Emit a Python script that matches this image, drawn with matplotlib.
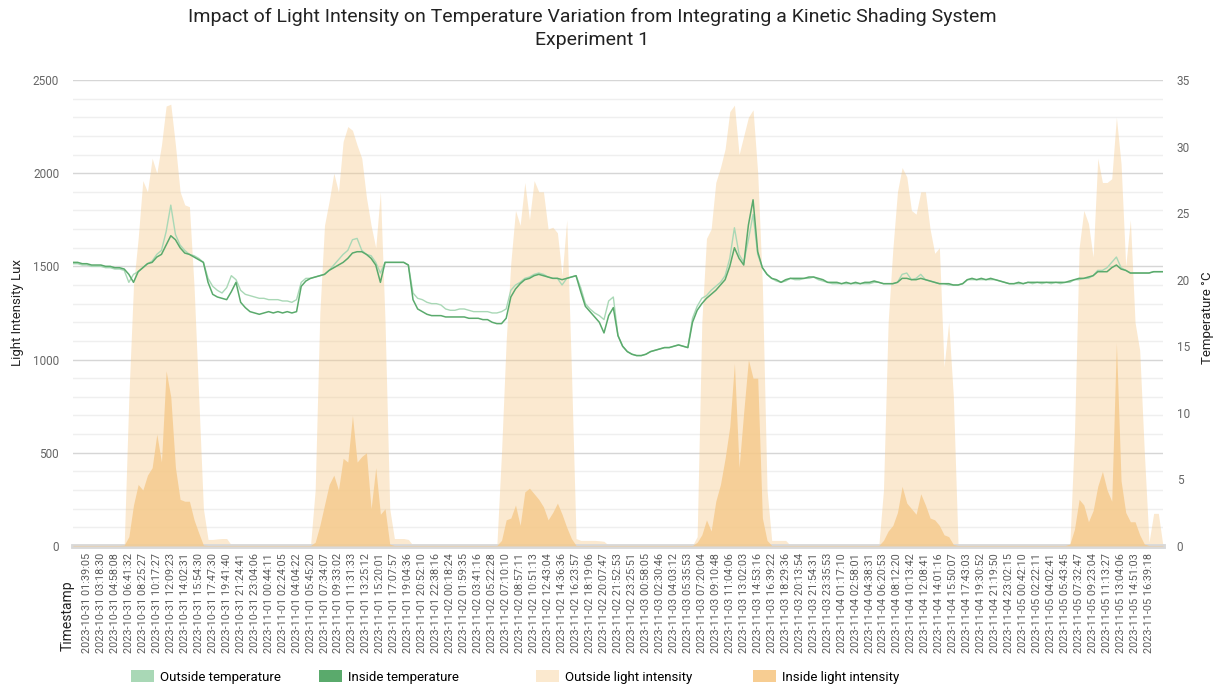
import numpy as np
import matplotlib.pyplot as plt
from matplotlib.patches import Patch
from matplotlib.ticker import MultipleLocator

plt.rcParams['font.family'] = ['Roboto', 'DejaVu Sans']

timestamps = [
    "2023-10-31 01:39:05", "2023-10-31 03:18:30", "2023-10-31 04:58:08", "2023-10-31 06:41:32",
    "2023-10-31 08:25:27", "2023-10-31 10:17:27", "2023-10-31 12:09:23", "2023-10-31 14:02:31",
    "2023-10-31 15:54:30", "2023-10-31 17:47:30", "2023-10-31 19:41:40", "2023-10-31 21:24:41",
    "2023-10-31 23:04:06", "2023-11-01 00:44:11", "2023-11-01 02:24:05", "2023-11-01 04:04:22",
    "2023-11-01 05:45:20", "2023-11-01 07:34:07", "2023-11-01 09:33:02", "2023-11-01 11:31:33",
    "2023-11-01 13:25:12", "2023-11-01 15:20:01", "2023-11-01 17:07:57", "2023-11-01 19:04:36",
    "2023-11-01 20:52:10", "2023-11-01 22:38:16", "2023-11-02 00:18:24", "2023-11-02 01:59:35",
    "2023-11-02 03:41:16", "2023-11-02 05:22:28", "2023-11-02 07:10:10", "2023-11-02 08:57:11",
    "2023-11-02 10:51:13", "2023-11-02 12:43:04", "2023-11-02 14:36:36", "2023-11-02 16:23:57",
    "2023-11-02 18:19:06", "2023-11-02 20:07:47", "2023-11-02 21:52:53", "2023-11-02 23:25:51",
    "2023-11-03 00:58:05", "2023-11-03 02:30:46", "2023-11-03 04:03:12", "2023-11-03 05:35:53",
    "2023-11-03 07:20:04", "2023-11-03 09:10:48", "2023-11-03 11:04:06", "2023-11-03 13:02:03",
    "2023-11-03 14:53:16", "2023-11-03 16:39:22", "2023-11-03 18:29:36", "2023-11-03 20:13:54",
    "2023-11-03 21:54:31", "2023-11-03 23:35:53", "2023-11-04 01:17:10", "2023-11-04 02:58:01",
    "2023-11-04 04:38:31", "2023-11-04 06:20:53", "2023-11-04 08:12:20", "2023-11-04 10:13:42",
    "2023-11-04 12:08:41", "2023-11-04 14:01:16", "2023-11-04 15:50:07", "2023-11-04 17:43:03",
    "2023-11-04 19:30:52", "2023-11-04 21:19:50", "2023-11-04 23:02:15", "2023-11-05 00:42:10",
    "2023-11-05 02:22:11", "2023-11-05 04:02:41", "2023-11-05 05:43:45", "2023-11-05 07:32:47",
    "2023-11-05 09:23:04", "2023-11-05 11:13:27", "2023-11-05 13:04:06", "2023-11-05 14:51:03",
    "2023-11-05 16:39:18",
]

# readings, three per timestamp interval
outside_temp = [
    21.2, 21.2, 21.1, 21.1, 21.0, 21.0, 21.0, 20.9, 20.9, 20.8,
    20.8, 20.7, 19.8, 20.4, 20.6, 20.9, 21.2, 21.4, 21.9, 22.2,
    23.6, 25.6, 23.4, 22.6, 22.2, 21.9, 21.8, 21.6, 21.3, 20.1,
    19.5, 19.2, 19.0, 19.4, 20.3, 20.0, 19.2, 18.9, 18.8, 18.7,
    18.6, 18.6, 18.5, 18.5, 18.5, 18.4, 18.4, 18.3, 18.5, 19.8,
    20.1, 20.1, 20.2, 20.3, 20.4, 20.7, 21.1, 21.5, 21.9, 22.2,
    23.0, 23.1, 22.2, 21.9, 21.8, 21.3, 20.5, 21.3, 21.3, 21.3,
    21.3, 21.3, 21.1, 19.0, 18.6, 18.5, 18.3, 18.2, 18.2, 18.1,
    17.8, 17.7, 17.7, 17.8, 17.8, 17.7, 17.6, 17.6, 17.6, 17.6,
    17.5, 17.5, 17.6, 17.8, 19.2, 19.6, 19.8, 20.1, 20.2, 20.4,
    20.5, 20.4, 20.2, 20.1, 20.1, 19.6, 20.1, 20.2, 20.3, 19.4,
    18.2, 17.8, 17.5, 17.3, 17.0, 18.4, 18.7, 15.8, 15.0, 14.6,
    14.4, 14.3, 14.3, 14.4, 14.6, 14.7, 14.8, 14.9, 14.9, 15.0,
    15.1, 15.0, 14.9, 17.1, 18.0, 18.6, 18.8, 19.2, 19.5, 19.8,
    20.3, 21.6, 23.9, 21.9, 21.3, 23.0, 24.9, 21.9, 20.9, 20.4,
    20.1, 19.9, 19.8, 19.9, 20.1, 20.0, 20.0, 20.1, 20.1, 20.2,
    20.0, 19.9, 19.8, 19.7, 19.7, 19.7, 19.7, 19.7, 19.7, 19.7,
    19.7, 19.7, 19.8, 19.8, 19.7, 19.7, 19.7, 19.8, 20.4, 20.5,
    20.0, 20.1, 20.4, 20.0, 19.9, 19.8, 19.7, 19.7, 19.6, 19.6,
    19.6, 19.7, 20.0, 20.0, 20.0, 20.0, 20.0, 20.0, 20.0, 19.9,
    19.8, 19.7, 19.7, 19.7, 19.7, 19.8, 19.7, 19.8, 19.7, 19.8,
    19.7, 19.8, 19.7, 19.8, 19.8, 20.0, 20.0, 20.1, 20.1, 20.3,
    20.7, 20.7, 20.9, 21.3, 21.7, 20.9, 20.7, 20.5, 20.5, 20.5,
    20.5, 20.5, 20.6, 20.6, 20.6,
]

inside_temp = [
    21.3, 21.3, 21.2, 21.2, 21.1, 21.1, 21.1, 21.0, 21.0, 20.9,
    20.9, 20.8, 20.4, 19.8, 20.6, 20.9, 21.2, 21.3, 21.7, 21.9,
    22.6, 23.3, 23.0, 22.4, 22.0, 21.9, 21.7, 21.5, 21.3, 19.8,
    18.9, 18.7, 18.6, 18.5, 19.1, 19.8, 18.3, 17.9, 17.6, 17.5,
    17.4, 17.5, 17.6, 17.5, 17.6, 17.5, 17.6, 17.5, 17.6, 19.5,
    19.9, 20.1, 20.2, 20.3, 20.4, 20.7, 20.9, 21.1, 21.3, 21.6,
    22.0, 22.1, 22.1, 21.9, 21.6, 21.1, 19.8, 21.3, 21.3, 21.3,
    21.3, 21.3, 21.1, 18.5, 17.8, 17.6, 17.4, 17.3, 17.3, 17.3,
    17.2, 17.2, 17.2, 17.2, 17.2, 17.1, 17.1, 17.1, 17.0, 17.0,
    16.8, 16.7, 16.7, 17.1, 18.7, 19.3, 19.7, 20.0, 20.1, 20.3,
    20.4, 20.3, 20.2, 20.1, 20.1, 20.0, 20.1, 20.2, 20.3, 19.1,
    18.0, 17.6, 17.2, 16.8, 16.0, 17.3, 17.9, 15.8, 15.0, 14.6,
    14.4, 14.3, 14.3, 14.4, 14.6, 14.7, 14.8, 14.9, 14.9, 15.0,
    15.1, 15.0, 14.9, 16.8, 17.7, 18.2, 18.6, 18.9, 19.2, 19.6,
    20.0, 21.0, 22.4, 21.6, 21.1, 24.1, 26.0, 22.1, 20.9, 20.4,
    20.1, 20.0, 19.8, 20.0, 20.1, 20.1, 20.1, 20.1, 20.2, 20.2,
    20.1, 20.0, 19.8, 19.8, 19.8, 19.7, 19.8, 19.7, 19.8, 19.7,
    19.8, 19.8, 19.9, 19.8, 19.7, 19.7, 19.7, 19.8, 20.1, 20.1,
    20.0, 20.0, 20.1, 20.0, 19.9, 19.8, 19.7, 19.7, 19.7, 19.6,
    19.6, 19.7, 20.0, 20.1, 20.0, 20.1, 20.0, 20.1, 20.0, 19.9,
    19.8, 19.7, 19.7, 19.8, 19.7, 19.8, 19.8, 19.8, 19.8, 19.8,
    19.8, 19.8, 19.8, 19.8, 19.9, 20.0, 20.1, 20.1, 20.2, 20.3,
    20.6, 20.6, 20.6, 20.9, 21.1, 20.8, 20.7, 20.5, 20.5, 20.5,
    20.5, 20.5, 20.6, 20.6, 20.6,
]

outside_light = [
    5, 5, 5, 8, 5, 5, 5, 5, 5, 5,
    5, 5, 800, 1400, 1650, 1960, 1900, 2080, 2000, 2150,
    2360, 2370, 2150, 1900, 1830, 1820, 1390, 800, 200, 35,
    35, 38, 40, 40, 5, 3, 3, 3, 3, 3,
    3, 3, 3, 3, 3, 3, 3, 3, 3, 3,
    3, 3, 300, 1250, 1720, 1850, 2000, 1900, 2170, 2250,
    2230, 2150, 2080, 1870, 1720, 1600, 1900, 1200, 200, 40,
    40, 40, 35, 3, 3, 3, 3, 3, 3, 3,
    3, 3, 3, 3, 3, 3, 3, 3, 3, 3,
    3, 3, 500, 1100, 1520, 1800, 1720, 1950, 1750, 1960,
    1900, 1900, 1700, 1710, 1680, 1450, 1750, 950, 40, 30,
    30, 30, 30, 28, 25, 3, 3, 3, 3, 3,
    3, 3, 3, 3, 3, 3, 3, 3, 3, 3,
    3, 3, 3, 3, 50, 1200, 1650, 1700, 1950, 2030,
    2130, 2330, 2365, 2100, 2200, 2300, 2340, 2000, 1400, 300,
    30, 30, 30, 30, 3, 3, 3, 3, 3, 3,
    3, 3, 3, 3, 3, 3, 3, 3, 3, 3,
    3, 3, 3, 3, 300, 1200, 1590, 1900, 2030, 1980,
    1800, 1780, 1900, 1900, 1700, 1570, 1600, 960, 1200, 800,
    10, 3, 3, 3, 3, 3, 3, 3, 3, 3,
    3, 3, 3, 3, 3, 3, 3, 3, 3, 3,
    3, 3, 3, 3, 3, 600, 1600, 1800, 1730, 1550,
    2080, 1950, 1950, 1970, 2300, 2050, 1500, 1750, 1200, 1050,
    500, 20, 175, 175, 0,
]

inside_light = [
    3, 3, 3, 3, 3, 3, 3, 3, 3, 3,
    3, 5, 50, 220, 330, 300, 380, 420, 600, 450,
    940, 800, 420, 250, 240, 240, 140, 70, 5, 3,
    3, 3, 3, 3, 3, 3, 3, 3, 3, 3,
    3, 3, 3, 3, 3, 3, 3, 3, 3, 3,
    3, 3, 20, 110, 220, 330, 380, 300, 470, 450,
    700, 450, 480, 500, 200, 420, 170, 200, 10, 3,
    3, 3, 3, 3, 3, 3, 3, 3, 3, 3,
    3, 3, 3, 3, 3, 3, 3, 3, 3, 3,
    3, 3, 30, 140, 150, 220, 110, 290, 310, 280,
    250, 210, 140, 180, 230, 170, 100, 40, 3, 3,
    3, 3, 3, 3, 3, 3, 3, 3, 3, 3,
    3, 3, 3, 3, 3, 3, 3, 3, 3, 3,
    3, 3, 3, 3, 20, 60, 140, 80, 240, 330,
    470, 640, 980, 420, 720, 1000, 900, 900, 150, 30,
    3, 3, 3, 3, 3, 3, 3, 3, 3, 3,
    3, 3, 3, 3, 3, 3, 3, 3, 3, 3,
    3, 3, 3, 3, 30, 80, 110, 180, 320, 230,
    200, 170, 280, 220, 150, 140, 110, 60, 50, 8,
    3, 3, 3, 3, 3, 3, 3, 3, 3, 3,
    3, 3, 3, 3, 3, 3, 3, 3, 3, 3,
    3, 3, 3, 3, 10, 90, 250, 220, 130, 190,
    320, 400, 300, 240, 1090, 350, 180, 130, 130, 60,
    10, 3, 3, 3, 3,
]

series_names = ['Outside temperature', 'Inside temperature',
                'Outside light intensity', 'Inside light intensity']
series_colors = ['#a9d8b6', '#5aaa6c', '#fbe9cf', '#f7cd92']

# one reading every third of a label interval, starting one interval before the first label
x = np.arange(len(inside_temp)) / 3 - 1

fig = plt.figure(figsize=(12.16, 6.84), dpi=100)
ax = fig.add_axes([0.060, 0.2018, 0.8964, 0.6813])

ax.fill_between(x, outside_light, color='#f5c98a', alpha=0.4, lw=0, zorder=2)
ax.fill_between(x, inside_light, color='#f5c98a', alpha=0.8, lw=0, zorder=3)

ax.set_xlim(-1, 77)
ax.set_ylim(0, 2500)
ax.yaxis.set_major_locator(MultipleLocator(500))
ax.yaxis.set_minor_locator(MultipleLocator(100))
ax.grid(axis='y', which='major', color='#d6d6d6', lw=1, zorder=0)
ax.grid(axis='y', which='minor', color='#efefef', lw=1, zorder=0)
ax.set_axisbelow(True)
for side in ['top', 'left', 'right']:
    ax.spines[side].set_visible(False)
ax.spines['bottom'].set_color('#d9d9d9')
ax.spines['bottom'].set_linewidth(3.5)

ax.set_xticks(range(len(timestamps)))
ax.set_xticklabels(timestamps, rotation=90, fontsize=7.8, color='#5a5a5a')
ax.tick_params(axis='x', length=0, pad=5)
ax.tick_params(axis='y', which='both', length=0, labelsize=8.5, labelcolor='#666666', pad=10)

ax2 = ax.twinx()
ax2.plot(x, outside_temp, color=series_colors[0], lw=1.0)
ax2.plot(x, inside_temp, color=series_colors[1], lw=1.1)
ax2.set_ylim(0, 35)
ax2.yaxis.set_major_locator(MultipleLocator(5))
ax2.tick_params(axis='y', length=0, labelsize=8.5, labelcolor='#666666', pad=10)
for side in ax2.spines:
    ax2.spines[side].set_visible(False)

fig.text(0.487, 0.988, 'Impact of Light Intensity on Temperature Variation from Integrating a Kinetic Shading System\nExperiment 1',
         ha='center', va='top', fontsize=14, color='#222222', linespacing=1.3)
fig.text(18 / 1216, 1 - 313 / 684, 'Light Intensity Lux', rotation=90,
         ha='center', va='center', fontsize=9.5, color='#222222')
fig.text(1207 / 1216, 1 - 318 / 684, 'Temperature °C', rotation=90,
         ha='center', va='center', fontsize=9.5, color='#222222')
fig.text(68 / 1216, 1 - 616 / 684, 'Timestamp', rotation=90,
         ha='center', va='center', fontsize=10, color='#222222')

# legend entries sit at fixed spots along the bottom
legend_left = [0.1075, 0.2625, 0.4405, 0.619]
for name, color, left in zip(series_names, series_colors, legend_left):
    fig.legend(handles=[Patch(facecolor=color, edgecolor='none')], labels=[name],
               loc='center left', bbox_to_anchor=(left, 1 - 677 / 684), frameon=False,
               fontsize=9.5, handlelength=1.75, handleheight=1.0, handletextpad=0.45,
               borderpad=0, borderaxespad=0)

fig.savefig('out.png', dpi=100)
